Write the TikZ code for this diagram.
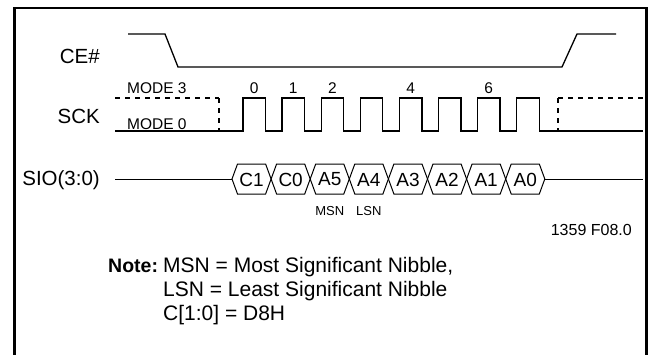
\documentclass[tikz,border=0pt]{standalone}
\usepackage{fontspec}
\setmainfont{Liberation Sans}
\usepackage{tikz}
\usetikzlibrary{calc}

\begin{document}
\begin{tikzpicture}[x=1pt,y=-1pt,
    wave/.style={line width=1.3pt,line join=miter},
    dashwave/.style={line width=1.3pt,dash pattern=on 5pt off 5pt},
    siglabel/.style={font=\fontsize{20.5}{23}\selectfont,inner sep=0pt,anchor=base east},
    small/.style={font=\fontsize{15.5}{17}\selectfont,inner sep=0pt,anchor=base},
    tiny/.style={font=\fontsize{13}{15}\selectfont,inner sep=0pt,anchor=base},
    buslabel/.style={font=\fontsize{19}{21}\selectfont,inner sep=0pt},
    notetext/.style={font=\fontsize{21}{24}\selectfont,inner sep=0pt,anchor=base west}]
  \useasboundingbox (0,0) rectangle (648,354);
  \draw[line width=2.2pt] (14.5,356) -- (14.5,8) -- (646.5,8) -- (646.5,356);

  % signal names
  \node[siglabel] (ce) at (100,63.5) {CE\#};
  \node[siglabel] (sck) at (100,123) {SCK};
  \node[siglabel] (sio) at (100,185) {SIO(3:0)};

  % CE#
  \draw[wave] (128,34) -- (165,34) -- (178,67) -- (562,67) -- (577,34) -- (616,34);

  % SCK
  \node[small,anchor=base west] (mode3) at (127,93) {MODE 3};
  \node[small,anchor=base west] (mode0) at (127,129) {MODE 0};
  \draw[dashwave] (115,98) -- (219,98);
  \draw[dashwave] (219,98) -- (219,131);
  \draw[wave] (115,131) -- (243,131)
    \foreach \k in {0,...,7}{ -- ++(0,-33) -- ++(22.5,0) -- ++(0,33) -- ++(16.6,0)}
    -- (643,131);
  \draw[dashwave] (558,98) -- (643,98);
  \draw[dashwave] (558,98) -- (558,131);
  \foreach \n/\k in {0/0,1/1,2/2,4/4,6/6}
    \node[small] (clk\n) at (254.2+39.1*\k,93) {\n};

  % SIO
  \coordinate (sioL) at (115,179);
  \coordinate (sioR) at (643,179);
  \foreach \name [count=\i from 0] in {C1,C0,A5,A4,A3,A2,A1,A0}{
    \pgfmathsetmacro\xl{232+39.1*\i}
    \pgfmathsetmacro\xr{\xl+39.1}
    \draw[wave,line width=1pt] (\xl,179) -- (\xl+5.5,164) -- (\xr-5.5,164) -- (\xr,179)
      -- (\xr-5.5,194) -- (\xl+5.5,194) -- cycle;
    \node[buslabel] (b\i) at (\xl+19.55,179.5) {\name};
  }
  \draw[wave,line width=1pt] (sioL) -- (232,179);
  \draw[wave,line width=1pt] (544.8,179) -- (sioR);
  \node[tiny] (msn) at (b2.center |- 0,215) {MSN};
  \node[tiny] (lsn) at (b3.center |- 0,215) {LSN};

  \node[small,anchor=base east,font=\fontsize{16}{18}\selectfont] (fig) at (632,235) {1359 F08.0};

  % note
  \node[notetext,font=\fontsize{19.5}{22}\selectfont\bfseries] (note) at (108,272.5) {Note:};
  \node[notetext] (n1) at (163,272.5) {MSN = Most Significant Nibble,};
  \node[notetext] (n2) at (163,296) {LSN = Least Significant Nibble};
  \node[notetext] (n3) at (163,320) {C[1:0] = D8H};
\end{tikzpicture}
\end{document}
